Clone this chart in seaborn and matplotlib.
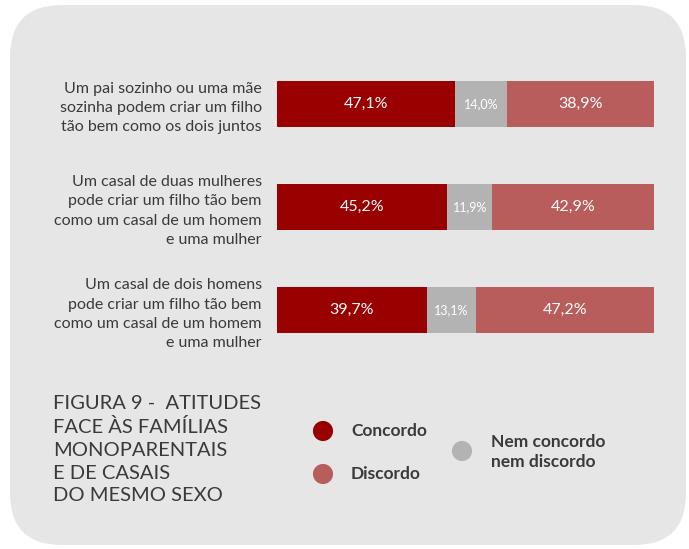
import numpy as np
import pandas as pd
import seaborn as sns
import matplotlib.pyplot as plt
from matplotlib.patches import FancyBboxPatch

# --- data ---
questions = [
    "Um pai sozinho ou uma mãe\nsozinha podem criar um filho\ntão bem como os dois juntos",
    "Um casal de duas mulheres\npode criar um filho tão bem\ncomo um casal de um homem\ne uma mulher",
    "Um casal de dois homens\npode criar um filho tão bem\ncomo um casal de um homem\ne uma mulher",
]
concordo = [47.1, 45.2, 39.7]
nem = [14.0, 11.9, 13.1]
discordo = [38.9, 42.9, 47.2]
series_names = ["Concordo", "Nem concordo\nnem discordo", "Discordo"]
colors = ["#990000", "#b3b3b3", "#b85c5c"]

title = "FIGURA 9 -  ATITUDES\nFACE ÀS FAMÍLIAS\nMONOPARENTAIS\nE DE CASAIS\nDO MESMO SEXO"

sns.set_theme(style="white")
plt.rcParams['font.family'] = ['Lato', 'DejaVu Sans']
text_color = "#3a3a3a"

fig = plt.figure(figsize=(6.89, 5.49), dpi=100)
fig.patch.set_facecolor("white")

# background axes in pixel coords
bg = fig.add_axes([0, 0, 1, 1], zorder=0)
bg.set_xlim(0, 689)
bg.set_ylim(549, 0)
bg.axis("off")
panel = FancyBboxPatch((10 + 52, 5 + 52), 676 - 104, 540 - 104,
                       boxstyle="round,pad=52", facecolor="#e6e6e6",
                       edgecolor="none")
bg.add_patch(panel)

# --- stacked bars ---
df = pd.DataFrame({
    "question": questions,
    "c1": concordo,
    "c2": np.array(concordo) + np.array(nem),
    "c3": np.array(concordo) + np.array(nem) + np.array(discordo),
})

ax = fig.add_axes([277 / 689, 1 - 361.5 / 549, 377 / 689, 309 / 549], zorder=1)
ax.patch.set_visible(False)
for col, c in zip(["c3", "c2", "c1"], [colors[2], colors[1], colors[0]]):
    sns.barplot(data=df, y="question", x=col, orient="h", color=c,
                width=0.447, saturation=1, ax=ax, linewidth=0)
ax.set_xlim(0, 100)
ax.set_ylim(2.5, -0.5)
ax.set_xlabel("")
ax.set_ylabel("")
ax.set_xticks([])
ax.tick_params(axis="y", length=0, pad=11, labelsize=11.5, labelcolor=text_color)
for lbl in ax.get_yticklabels():
    lbl.set_linespacing(1.46)
sns.despine(ax=ax, left=True, bottom=True)

# value labels
for i in range(len(questions)):
    starts = [0, concordo[i], concordo[i] + nem[i]]
    vals = [concordo[i], nem[i], discordo[i]]
    for j, (s, v) in enumerate(zip(starts, vals)):
        ax.text(s + v / 2, i, f"{v:.1f}%".replace(".", ","),
                ha="center", va="center", color="white",
                fontsize=9 if j == 1 else 11.5)

# title
bg.text(53, 395, title, ha="left", va="top", fontsize=14.5, color=text_color,
        linespacing=1.41)

# legend
bg.scatter([323, 323, 462], [431, 474, 451], s=210,
           c=[colors[0], colors[2], colors[1]], linewidths=0)
bg.text(351, 431, series_names[0], va="center", ha="left", fontsize=12.5,
        fontweight="bold", color=text_color)
bg.text(351, 474, series_names[2], va="center", ha="left", fontsize=12.5,
        fontweight="bold", color=text_color)
bg.text(491, 452, series_names[1], va="center", ha="left", fontsize=12.5,
        fontweight="bold", color=text_color, linespacing=1.25)

fig.savefig("out.png", dpi=100, facecolor="white")
